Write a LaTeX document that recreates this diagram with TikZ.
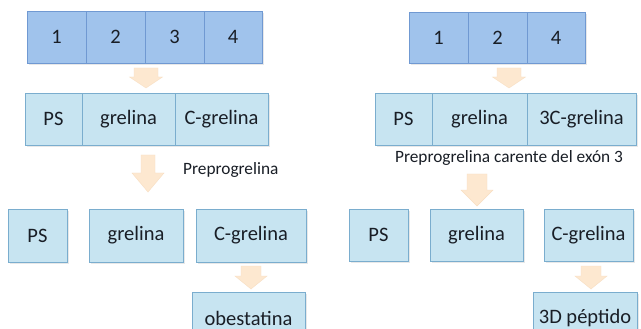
\documentclass[tikz,border=0pt]{standalone}
\usepackage{fontspec}
\setmainfont{Carlito}
\definecolor{exonfill}{RGB}{160,195,236}
\definecolor{exonline}{RGB}{112,153,210}
\definecolor{pepfill}{RGB}{199,228,241}
\definecolor{pepline}{RGB}{122,173,206}
\definecolor{arrfill}{RGB}{253,232,208}
\definecolor{arrline}{RGB}{248,222,194}
\definecolor{txt}{RGB}{25,30,38}
\tikzset{
  cellbase/.style={draw, line width=0.8pt, inner sep=0pt, text=txt,
    font=\fontsize{20.5}{24}\selectfont, anchor=center},
  exon/.style={cellbase, fill=exonfill, draw=exonline},
  pep/.style={cellbase, fill=pepfill, draw=pepline},
  blockarrow/.style={fill=arrfill, draw=arrline, line width=0.4pt},
  caption/.style={text=txt, font=\fontsize{17.3}{20}\selectfont, inner sep=0pt},
  shadow/.style={fill=black!9, draw=none}
}
% cell: name, x1, y1, x2, y2, style, text
\newcommand{\cellbox}[7]{%
  \fill[shadow] (#2+1.5,#3+2) rectangle (#4+1.5,#5+2);
  \node[#6, minimum width={(#4-#2)*1pt}, minimum height={(#5-#3)*1pt}]
    (#1) at ({(#2+#4)/2},{(#3+#5)/2}) {#7};}
% block arrow: cx, top, headstart, tip, shaft half, head half
\newcommand{\blockarr}[6]{%
  \draw[blockarrow] (#1-#5,#2) -- (#1+#5,#2) -- (#1+#5,#3) -- (#1+#6,#3)
    -- (#1,#4) -- (#1-#6,#3) -- (#1-#5,#3) -- cycle;}
\begin{document}
\begin{tikzpicture}[x=1pt,y=-1pt]
\clip (0,0) rectangle (641,329);
\fill[white] (0,0) rectangle (641,329);
% ---- left side ----
\cellbox{L1}{27}{11}{86}{63}{exon}{1}
\cellbox{L2}{86}{11}{145}{63}{exon}{2}
\cellbox{L3}{145}{11}{204}{63}{exon}{3}
\cellbox{L4}{204}{11}{262}{63}{exon}{4}
\blockarr{146}{68}{77}{88}{12}{16.5}
\cellbox{LPS}{25}{93}{82}{145}{pep}{PS}
\cellbox{LGR}{82}{93}{175}{145}{pep}{grelina}
\cellbox{LCG}{175}{93}{268}{145}{pep}{C-grelina}
\node[caption, anchor=west] (lcap) at (183,170) {Preprogrelina};
\blockarr{148}{155}{173}{192}{7}{16}
\cellbox{LPS2}{8}{209}{67}{262}{pep}{PS}
\cellbox{LGR2}{89}{209}{183}{262}{pep}{grelina}
\cellbox{LCG2}{196}{209}{306}{262}{pep}{C-grelina}
\blockarr{251}{266}{276}{289}{10}{16}
\cellbox{LOB}{192}{292}{305}{348}{pep}{}
\node[cellbase, draw=none, fill=none] (lobt) at (248.5,318) {obestatina};
% ---- right side ----
\cellbox{R1}{409}{12}{468}{63}{exon}{1}
\cellbox{R2}{468}{12}{527}{63}{exon}{2}
\cellbox{R4}{527}{12}{585}{63}{exon}{4}
\blockarr{509}{68}{77}{88}{12}{16.5}
\cellbox{RPS}{375}{93}{432}{145}{pep}{PS}
\cellbox{RGR}{432}{93}{527}{145}{pep}{grelina}
\cellbox{RCG}{527}{93}{636}{145}{pep}{3C-grelina}
\node[caption] (rcap) at (509,158) {Preprogrelina carente del exón 3};
\blockarr{477}{174}{190}{206}{10}{16}
\cellbox{RPS2}{349}{209}{408}{261}{pep}{PS}
\cellbox{RGR2}{430}{209}{523}{261}{pep}{grelina}
\cellbox{RCG2}{544}{209}{633}{261}{pep}{C-grelina}
\blockarr{591}{266}{276}{289}{10}{16}
\cellbox{R3D}{533}{292}{637}{348}{pep}{}
\node[cellbase, draw=none, fill=none] (r3dt) at (585,318) {3D péptido};
\end{tikzpicture}
\end{document}
